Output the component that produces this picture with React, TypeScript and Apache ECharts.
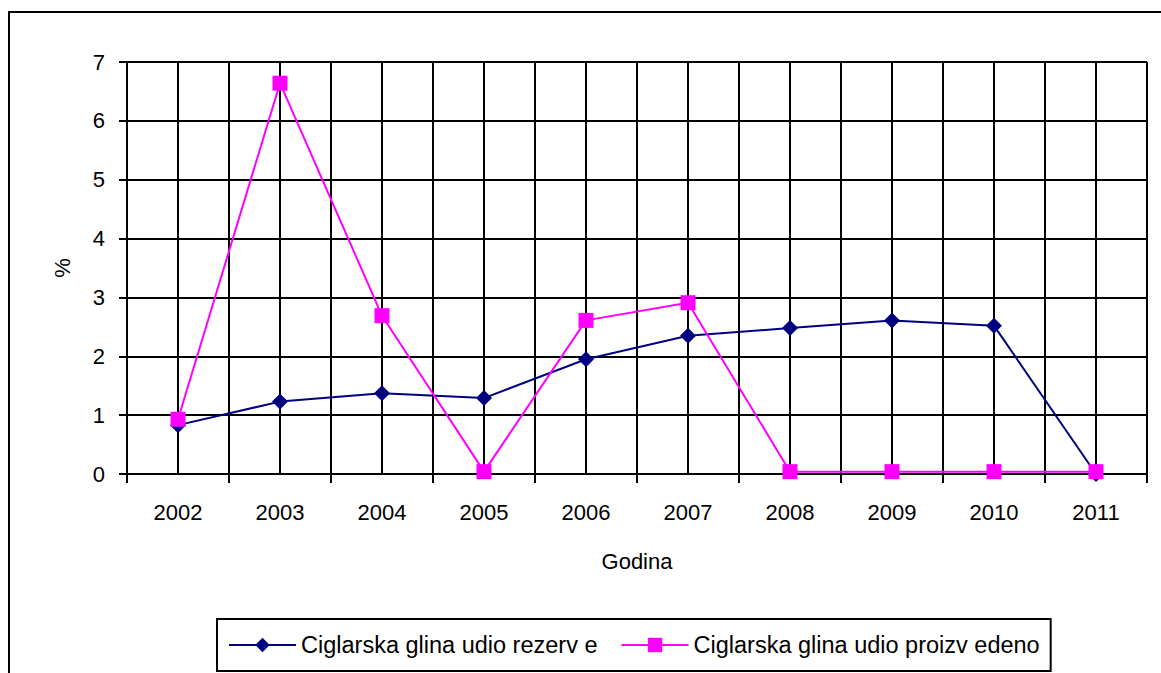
import React, { useEffect, useRef } from "react";
import * as echarts from "echarts";

const years = ["2002", "2003", "2004", "2005", "2006", "2007", "2008", "2009", "2010", "2011"];
const rezerve = [0.83, 1.23, 1.37, 1.29, 1.95, 2.35, 2.48, 2.61, 2.52, 0];
const proizvedeno = [0.93, 6.64, 2.69, 0.04, 2.61, 2.91, 0.04, 0.04, 0.04, 0.04];
const seriesNames = ["Ciglarska glina udio rezerv e", "Ciglarska glina udio proizv edeno"];
const yAxisName = "%";
const xAxisName = "Godina";

const FONT = "Liberation Sans, Arial, sans-serif";
const FS = 22;

export default function App() {
  const ref = useRef<HTMLDivElement>(null);
  useEffect(() => {
    if (!ref.current) return;
    const chart = echarts.init(ref.current, null, { renderer: "svg" });
    chart.setOption({
      animation: false,
      backgroundColor: "#fff",
      textStyle: { fontFamily: FONT, color: "#000", fontSize: FS },
      graphic: [
        {
          type: "rect",
          shape: { x: 9, y: 12, width: 1300, height: 800 },
          style: { fill: "none", stroke: "#000", lineWidth: 2 },
          silent: true,
          z: 0,
        },
      ],
      grid: { left: 127, top: 62, width: 1020, height: 412, containLabel: false },
      legend: {
        left: 217,
        top: 619,
        padding: [14, 11, 14, 11],
        itemWidth: 67,
        itemHeight: 18,
        itemGap: 23,
        borderColor: "#000",
        borderWidth: 2,
        textStyle: { fontFamily: FONT, fontSize: 23.5, color: "#000" },
        data: seriesNames,
      },
      xAxis: [
        {
          type: "category",
          data: years,
          boundaryGap: true,
          name: xAxisName,
          nameLocation: "middle",
          nameGap: 76,
          nameTextStyle: { fontFamily: FONT, fontSize: FS, color: "#000" },
          axisLine: { show: true, lineStyle: { color: "#000", width: 2 } },
          axisTick: { show: true, length: 9, lineStyle: { color: "#000", width: 2 } },
          axisLabel: { fontFamily: FONT, fontSize: FS, color: "#000", margin: 27 },
          splitLine: { show: false },
          z: 5,
        },
        {
          type: "value",
          min: 0,
          max: 10,
          interval: 0.5,
          position: "bottom",
          axisLine: { show: false },
          axisTick: { show: false },
          axisLabel: { show: false },
          splitLine: { show: true, lineStyle: { color: "#000", width: 2 } },
        },
      ],
      yAxis: {
        type: "value",
        min: 0,
        max: 7,
        interval: 1,
        name: yAxisName,
        nameLocation: "middle",
        nameGap: 54,
        nameRotate: 90,
        nameTextStyle: { fontFamily: FONT, fontSize: FS, color: "#000" },
        axisLine: { show: true, lineStyle: { color: "#000", width: 2 } },
        axisTick: { show: true, length: 8, lineStyle: { color: "#000", width: 2 } },
        axisLabel: { fontFamily: FONT, fontSize: FS, color: "#000", margin: 22 },
        splitLine: { show: true, lineStyle: { color: "#000", width: 2 } },
      },
      series: [
        {
          name: seriesNames[0],
          type: "line",
          data: rezerve,
          xAxisIndex: 0,
          symbol: "diamond",
          symbolSize: 16,
          color: "#000080",
          lineStyle: { color: "#000080", width: 2 },
          itemStyle: { color: "#000080" },
          z: 10,
        },
        {
          name: seriesNames[1],
          type: "line",
          data: proizvedeno,
          xAxisIndex: 0,
          symbol: "rect",
          symbolSize: 15,
          color: "#FF00FF",
          lineStyle: { color: "#FF00FF", width: 2 },
          itemStyle: { color: "#FF00FF" },
          z: 11,
        },
      ],
    });
    return () => chart.dispose();
  }, []);
  return (
    <div
      ref={ref}
      style={{ position: "absolute", left: 0, top: 0, width: 1161, height: 673, background: "#fff" }}
    />
  );
}
